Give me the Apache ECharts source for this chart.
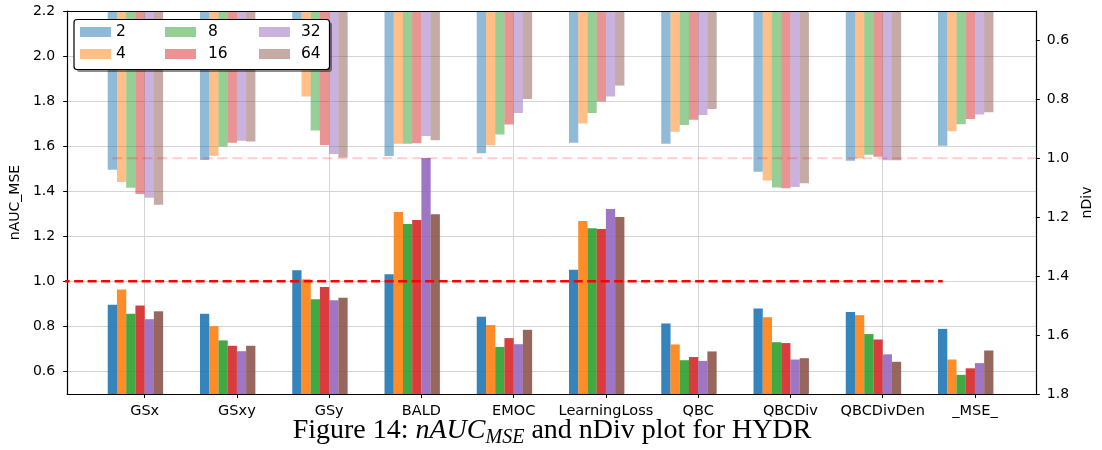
<!DOCTYPE html>
<html>
<head>
<meta charset="utf-8">
<script src="https://cdn.jsdelivr.net/npm/echarts@6/dist/echarts.min.js"></script>
<style>
  html, body { margin: 0; padding: 0; background: #fff; }
  #chart { width: 1102px; height: 450px; }
</style>
</head>
<body>
<div id="chart"></div>
<script>
// Query strategies on the x axis, one group of bars per strategy
const categories = ['GSx', 'GSxy', 'GSy', 'BALD', 'EMOC', 'LearningLoss', 'QBC', 'QBCDiv', 'QBCDivDen', '_MSE_'];
const budgets = ['2', '4', '8', '16', '32', '64'];

// nAUC_MSE (left axis), one array per budget
const nauc2  = [0.896, 0.856, 1.049, 1.032, 0.843, 1.052, 0.813, 0.880, 0.864, 0.789];
const nauc4  = [0.964, 0.801, 1.009, 1.308, 0.806, 1.268, 0.720, 0.841, 0.850, 0.653];
const nauc8  = [0.856, 0.738, 0.921, 1.255, 0.709, 1.236, 0.650, 0.730, 0.766, 0.585];
const nauc16 = [0.893, 0.714, 0.975, 1.272, 0.748, 1.232, 0.664, 0.726, 0.742, 0.614];
const nauc32 = [0.832, 0.690, 0.916, 1.548, 0.721, 1.321, 0.647, 0.653, 0.676, 0.637];
const nauc64 = [0.867, 0.714, 0.927, 1.298, 0.785, 1.286, 0.689, 0.659, 0.643, 0.693];

// nDiv (right axis, inverted), one array per budget
const ndiv2  = [1.039, 1.006, 0.620, 0.992, 0.983, 0.947, 0.951, 1.046, 1.008, 0.957];
const ndiv4  = [1.080, 0.991, 0.790, 0.951, 0.956, 0.882, 0.910, 1.075, 1.000, 0.908];
const ndiv8  = [1.100, 0.960, 0.906, 0.951, 0.919, 0.846, 0.887, 1.099, 0.988, 0.884];
const ndiv16 = [1.121, 0.947, 0.955, 0.949, 0.885, 0.807, 0.869, 1.102, 0.995, 0.867];
const ndiv32 = [1.134, 0.940, 0.985, 0.924, 0.846, 0.790, 0.853, 1.097, 1.007, 0.851];
const ndiv64 = [1.158, 0.943, 0.997, 0.939, 0.799, 0.753, 0.833, 1.085, 1.007, 0.844];

// Tick labels
const naucTicks = [0.6, 0.8, 1.0, 1.2, 1.4, 1.6, 1.8, 2.0, 2.2];
const ndivTicks = [0.6, 0.8, 1.0, 1.2, 1.4, 1.6, 1.8];

// Reference levels
const naucRef = 1.0;
const ndivRef = 1.0;

const naucSets = [nauc2, nauc4, nauc8, nauc16, nauc32, nauc64];
const ndivSets = [ndiv2, ndiv4, ndiv8, ndiv16, ndiv32, ndiv64];
const rgb = ['31,119,180', '255,127,14', '44,160,44', '214,39,40', '148,103,189', '140,86,75'];

const X_MIN = -0.84, X_MAX = 9.66;
const STEP = 0.1;               // bar width in category units
const catIdx = categories.map((_, i) => i);
const FONT = 'DejaVu Sans';

const chart = echarts.init(document.getElementById('chart'), null, { renderer: 'canvas' });

function barSeries(values, k, yIndex, alpha, name) {
  return {
    type: 'bar',
    name: name,
    xAxisIndex: 0,
    yAxisIndex: yIndex,
    barWidth: 9.27,
    barGap: '-100%',
    silent: true,
    animation: false,
    itemStyle: { color: 'rgba(' + rgb[k] + ',' + alpha + ')' },
    data: values.map((v, i) => [i + (k - 3.5) * STEP, v])
  };
}

const series = [];
naucSets.forEach((vals, k) => series.push(barSeries(vals, k, 0, 0.9, 'nAUC ' + budgets[k])));
ndivSets.forEach((vals, k) => series.push(barSeries(vals, k, 1, 0.5, budgets[k])));

series.push({
  type: 'line', xAxisIndex: 0, yAxisIndex: 0, silent: true, animation: false,
  symbol: 'none', z: 5,
  lineStyle: { color: '#ff0000', width: 2.5, type: [9, 4.5] },
  data: [[-1.35, naucRef], [categories.length - 1 - 0.35, naucRef]]
});
series.push({
  type: 'line', xAxisIndex: 0, yAxisIndex: 1, silent: true, animation: false,
  symbol: 'none', z: 5,
  lineStyle: { color: 'rgba(255,0,0,0.2)', width: 2, type: [10, 5] },
  data: [[-0.35, ndivRef], [categories.length - 0.35, ndivRef]]
});

const legendCommon = {
  orient: 'vertical', top: 24, padding: 0, itemGap: 6,
  itemWidth: 31, itemHeight: 10, icon: 'rect', z: 30,
  selectedMode: false,
  textStyle: { fontFamily: FONT, fontSize: 15.5, color: '#000', lineHeight: 16 }
};

const option = {
  backgroundColor: '#fff',
  animation: false,
  grid: { left: 66, right: 62, top: 11, bottom: 56, containLabel: false },
  xAxis: [
    {
      type: 'value', min: X_MIN, max: X_MAX, position: 'bottom',
      axisLine: { show: false, onZero: false }, axisTick: { show: false }, axisLabel: { show: false },
      splitLine: { show: true, customValues: catIdx, lineStyle: { color: '#d4d4d4', width: 1 } }
    },
    {
      type: 'value', min: X_MIN, max: X_MAX, position: 'bottom', z: 10,
      axisLine: { show: true, onZero: false, lineStyle: { color: '#000', width: 1.2 } },
      axisTick: { show: true, customValues: catIdx, length: 4, lineStyle: { color: '#000', width: 1 } },
      axisLabel: {
        show: true, customValues: catIdx, margin: 10,
        formatter: v => categories[Math.round(v)],
        fontFamily: FONT, fontSize: 14.5, color: '#000'
      },
      splitLine: { show: false }
    },
    {
      type: 'value', min: X_MIN, max: X_MAX, position: 'top', z: 10,
      axisLine: { show: true, onZero: false, lineStyle: { color: '#000', width: 1.2 } },
      axisTick: { show: false }, axisLabel: { show: false }, splitLine: { show: false }
    }
  ],
  yAxis: [
    {
      type: 'value', min: 0.5, max: 2.2, position: 'left',
      name: 'nAUC_MSE', nameLocation: 'middle', nameGap: 38, nameRotate: 90,
      nameTextStyle: { fontFamily: FONT, fontSize: 14, color: '#000' },
      axisLine: { show: true, onZero: false, lineStyle: { color: '#000', width: 1.2 } },
      axisTick: { show: true, customValues: naucTicks, length: 4, lineStyle: { color: '#000', width: 1 } },
      axisLabel: { customValues: naucTicks, formatter: v => v.toFixed(1), margin: 12, fontFamily: FONT, fontSize: 14, color: '#000' },
      splitLine: { show: true, customValues: naucTicks, lineStyle: { color: '#d4d4d4', width: 1 } }
    },
    {
      type: 'value', min: 0.5, max: 1.8, inverse: true, position: 'right',
      name: 'nDiv', nameLocation: 'middle', nameGap: 44, nameRotate: 90,
      nameTextStyle: { fontFamily: FONT, fontSize: 14, color: '#000' },
      axisLine: { show: true, onZero: false, lineStyle: { color: '#000', width: 1.2 } },
      axisTick: { show: true, customValues: ndivTicks, length: 4, lineStyle: { color: '#000', width: 1 } },
      axisLabel: { customValues: ndivTicks, formatter: v => v.toFixed(1), margin: 11, fontFamily: FONT, fontSize: 14, color: '#000' },
      splitLine: { show: false }
    }
  ],
  legend: [
    Object.assign({}, legendCommon, { left: 80, data: ['2', '4'] }),
    Object.assign({}, legendCommon, { left: 165, data: ['8', '16'], textStyle: Object.assign({}, legendCommon.textStyle, { padding: [0, 0, 0, 7] }) }),
    Object.assign({}, legendCommon, { left: 259, data: ['32', '64'], textStyle: Object.assign({}, legendCommon.textStyle, { padding: [0, 0, 0, 6] }) })
  ],
  graphic: [
    { type: 'rect', z: 20, silent: true, shape: { x: 76.5, y: 22, width: 255.5, height: 50, r: 3 }, style: { fill: 'rgba(0,0,0,0.45)' } },
    { type: 'rect', z: 21, silent: true, shape: { x: 74, y: 19.5, width: 255.5, height: 50, r: 3 }, style: { fill: '#fff', stroke: '#000', lineWidth: 1.2 } },
    {
      type: 'text', z: 30, silent: true,
      style: {
        x: 552, y: 431, textAlign: 'center', textVerticalAlign: 'middle', fill: '#000',
        text: '{a|Figure 14: }{m|nAUC}{s|MSE}{a| and nDiv plot for HYDR}',
        rich: {
          a: { fontFamily: 'Liberation Serif', fontSize: 28, lineHeight: 34, verticalAlign: 'middle' },
          m: { fontFamily: 'Liberation Serif', fontStyle: 'italic', fontSize: 28, lineHeight: 34, verticalAlign: 'middle' },
          s: { fontFamily: 'Liberation Serif', fontStyle: 'italic', fontSize: 20, lineHeight: 20, verticalAlign: 'bottom' }
        }
      }
    }
  ],
  series: series
};

chart.setOption(option);
</script>
</body>
</html>
